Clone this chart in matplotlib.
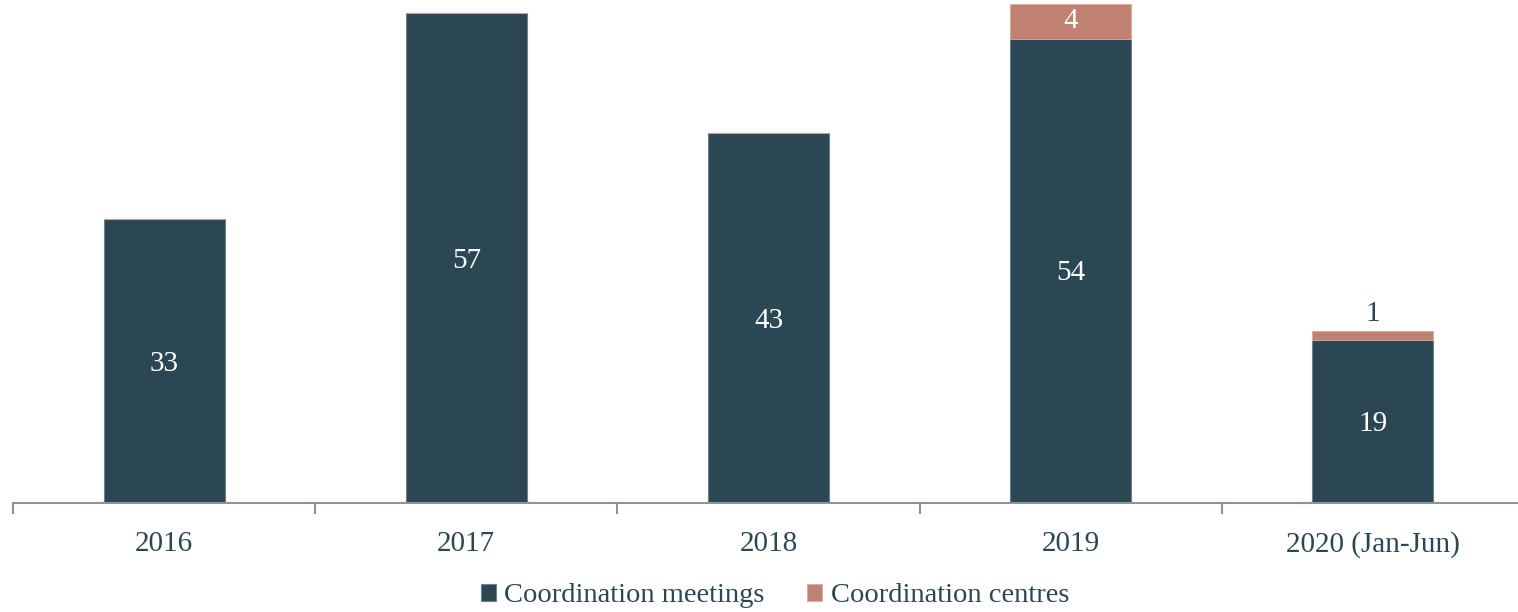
import numpy as np
import matplotlib.pyplot as plt

years = ['2016', '2017', '2018', '2019', '2020 (Jan-Jun)']
meetings = [33, 57, 43, 54, 19]
centres = [0, 0, 0, 4, 1]

dark = '#2B4753'
rose = '#C08072'

plt.rcParams['font.family'] = ['Liberation Serif', 'DejaVu Serif']

fig = plt.figure(figsize=(15.18, 6.12), dpi=100)
ax = fig.add_axes([13/1518, 1-503/612, 1511/1518, 503/612])

x = np.arange(len(years))
b1 = ax.bar(x, meetings, 0.4, color=dark, edgecolor='#6d7f88', linewidth=0.8,
            label='Coordination meetings')
b2 = ax.bar(x, centres, 0.4, bottom=meetings, color=rose, edgecolor='#d9aaa0',
            linewidth=0.6, label='Coordination centres')

for i in range(len(x)):
    ax.text(x[i], meetings[i]/2 - 0.3, str(meetings[i]), ha='center', va='center',
            color='white', fontsize=21)
    if centres[i] >= 3:
        ax.text(x[i], meetings[i] + centres[i]/2, str(centres[i]), ha='center',
                va='center', color='white', fontsize=21)
    elif centres[i] > 0:
        ax.text(x[i], meetings[i] + centres[i] + 0.5, str(centres[i]), ha='center',
                va='bottom', color=dark, fontsize=21)

ax.set_xlim(-0.5, 4.5)
ax.set_ylim(0, 58.5)
ax.set_yticks([])
for s in ['top', 'right', 'left']:
    ax.spines[s].set_visible(False)
ax.spines['bottom'].set_color('#8C9399')
ax.spines['bottom'].set_linewidth(1.5)

ax.set_xticks(np.arange(-0.5, 5, 1))
ax.set_xticklabels([])
ax.tick_params(axis='x', length=8, width=1.5, color='#8C9399')
ax.set_xticks(x, minor=True)
ax.set_xticklabels(years, minor=True, fontsize=21, color=dark)
ax.tick_params(axis='x', which='minor', length=0, pad=20)

fig.legend(handles=[b1, b2], loc='center', bbox_to_anchor=(0.5105, 1-596/612),
           ncol=2, frameon=False, fontsize=20.5, labelcolor=dark,
           handlelength=0.53, handleheight=0.53, handletextpad=0.3, columnspacing=1.5)

fig.savefig('out.png', dpi=100, facecolor='white')
